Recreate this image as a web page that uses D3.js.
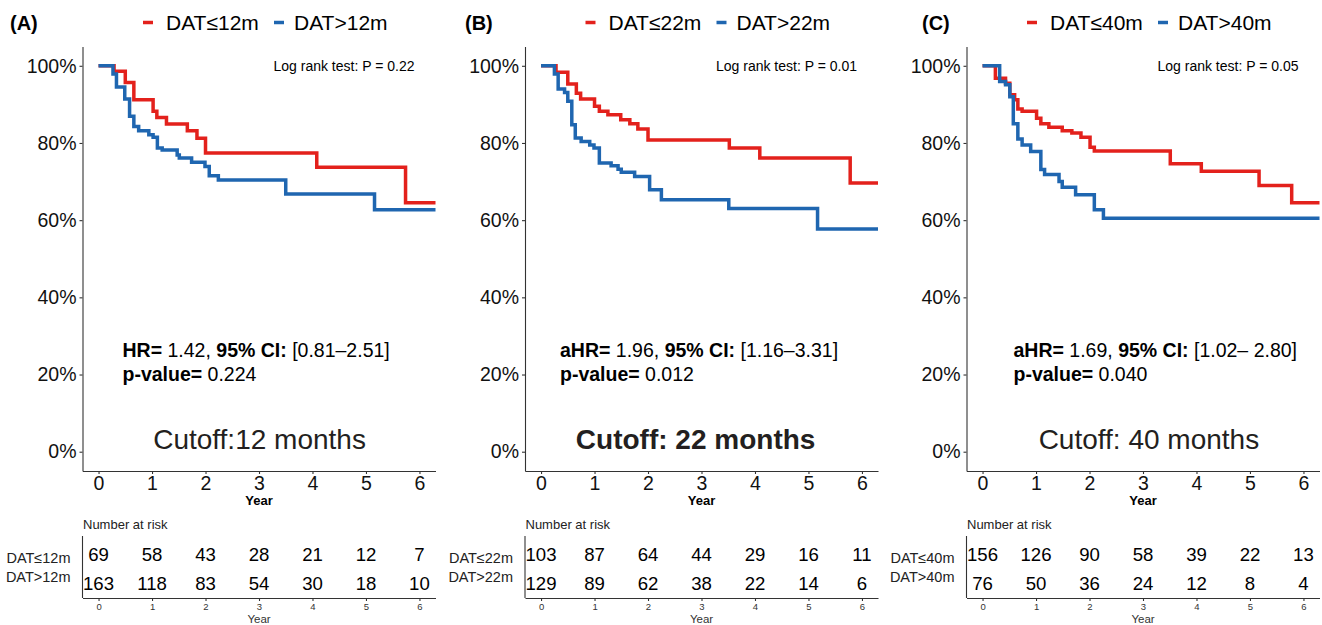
<!DOCTYPE html>
<html>
<head>
<meta charset="utf-8">
<script src="https://cdn.jsdelivr.net/npm/d3@7"></script>
<style>
  body { margin: 0; background: #fff; }
  svg { font-family: Arial, "Liberation Sans", sans-serif; }
</style>
</head>
<body>
<script>
// ---- data ----
const panelLabels = ["(A)", "(B)", "(C)"];
const lowGroups = ["DAT≤12m", "DAT≤22m", "DAT≤40m"];
const highGroups = ["DAT>12m", "DAT>22m", "DAT>40m"];
const logRankP = ["0.22", "0.01", "0.05"];
const hrLabels = ["HR=", "aHR=", "aHR="];
const hrValues = ["1.42", "1.96", "1.69"];
const ciValues = ["[0.81–2.51]", "[1.16–3.31]", "[1.02– 2.80]"];
const pValues = ["0.224", "0.012", "0.040"];
const cutoffTexts = ["Cutoff:12 months", "Cutoff: 22 months", "Cutoff: 40 months"];
const yearTicks = [0, 1, 2, 3, 4, 5, 6];
const pctTicks = [0, 0.2, 0.4, 0.6, 0.8, 1];

const riskLow = [
    [69, 58, 43, 28, 21, 12, 7],
    [103, 87, 64, 44, 29, 16, 11],
    [156, 126, 90, 58, 39, 22, 13]
];
const riskHigh = [
    [163, 118, 83, 54, 30, 18, 10],
    [129, 89, 62, 38, 22, 14, 6],
    [76, 50, 36, 24, 12, 8, 4]
];

// KM step curves (years, survival)
const timeA_low = [0, 0.29, 0.50, 0.66, 1.02, 1.09, 1.27, 1.66, 1.84, 2.00, 4.08, 5.74, 6.3];
const survA_low = [1, 0.986, 0.957, 0.912, 0.882, 0.866, 0.849, 0.832, 0.812, 0.774, 0.737, 0.645, 0.645];
const timeA_high = [0, 0.27, 0.335, 0.49, 0.58, 0.66, 0.75, 0.94, 1.02, 1.10, 1.19, 1.47, 1.51, 1.74, 1.99, 2.07, 2.24, 3.50, 5.16, 6.3];
const survA_high = [1, 0.979, 0.945, 0.914, 0.869, 0.843, 0.832, 0.821, 0.815, 0.787, 0.782, 0.769, 0.761, 0.750, 0.739, 0.715, 0.704, 0.668, 0.627, 0.627];

const timeB_low = [0, 0.28, 0.50, 0.66, 0.74, 1.00, 1.09, 1.25, 1.49, 1.66, 1.81, 2.00, 3.52, 4.09, 5.78, 6.3];
const survB_low = [1, 0.983, 0.953, 0.929, 0.914, 0.895, 0.882, 0.873, 0.860, 0.850, 0.836, 0.808, 0.787, 0.761, 0.696, 0.696];
const timeB_high = [0, 0.25, 0.32, 0.44, 0.50, 0.575, 0.64, 0.75, 0.91, 0.99, 1.09, 1.31, 1.44, 1.50, 1.75, 2.03, 2.25, 3.51, 5.17, 6.3];
const survB_high = [1, 0.979, 0.940, 0.931, 0.908, 0.847, 0.813, 0.804, 0.795, 0.787, 0.748, 0.741, 0.732, 0.724, 0.713, 0.679, 0.653, 0.630, 0.577, 0.577];

const timeC_low = [0, 0.24, 0.43, 0.51, 0.60, 0.66, 0.74, 1.01, 1.09, 1.24, 1.49, 1.67, 1.84, 2.01, 2.09, 3.51, 4.09, 5.17, 5.78, 6.3];
const survC_low = [1, 0.968, 0.955, 0.925, 0.912, 0.888, 0.882, 0.864, 0.850, 0.841, 0.832, 0.826, 0.815, 0.789, 0.779, 0.746, 0.727, 0.690, 0.645, 0.645];
const timeC_high = [0, 0.32, 0.43, 0.51, 0.575, 0.66, 0.74, 0.90, 1.09, 1.16, 1.43, 1.49, 1.74, 2.09, 2.26, 6.3];
const survC_high = [1, 0.959, 0.951, 0.920, 0.850, 0.810, 0.795, 0.778, 0.731, 0.718, 0.700, 0.685, 0.666, 0.627, 0.605, 0.605];

const lowCurves = [[timeA_low, survA_low], [timeB_low, survB_low], [timeC_low, survC_low]];
const highCurves = [[timeA_high, survA_high], [timeB_high, survB_high], [timeC_high, survC_high]];

// ---- layout ----
const width = 1322;
const height = 625;
const panelOffsets = [0, 442.5, 884];
const labelX = [10, 465, 922];
const hrX = [40, 35, 47];
const cutoffX = [3.01, 2.89, 3.11];
const cutoffBold = [false, true, false];
const red = "#E3211C";
const blue = "#1F66B0";

const svg = d3.select("body")
    .append("svg")
    .attr("width", width)
    .attr("height", height);

const x = d3.scaleLinear().domain([-0.3, 6.3]).range([82.5, 435.5]);
const y = d3.scaleLinear().domain([-0.05, 1.05]).range([471, 46.5]);
const riskRow = d3.scalePoint().domain([0, 1]).range([554, 583]);
const riskLab = d3.scalePoint().domain([0, 1]).range([558, 577]);

const line = d3.line()
    .x(d => x(d[0]))
    .y(d => y(d[1]))
    .curve(d3.curveStepAfter);

panelLabels.forEach((lab, i) => {
    const g = svg.append("g").attr("transform", `translate(${panelOffsets[i]},0)`);

    // panel tag
    svg.append("text")
        .attr("x", labelX[i]).attr("y", 30)
        .style("font-size", "20px").style("font-weight", "bold")
        .text(lab);

    // legend
    const leg = g.append("g").attr("transform", "translate(82.5,22.5)");
    leg.append("line").attr("x1", 60.5).attr("x2", 70.5)
        .attr("stroke", red).attr("stroke-width", 3.5);
    leg.append("text").attr("x", 83.5).attr("y", 7.2)
        .style("font-size", "21px").text(lowGroups[i]);
    leg.append("line").attr("x1", 191.5).attr("x2", 201.5)
        .attr("stroke", blue).attr("stroke-width", 3.5);
    leg.append("text").attr("x", 211.5).attr("y", 7.2)
        .style("font-size", "21px").text(highGroups[i]);

    // axes
    g.append("g")
        .attr("transform", "translate(82.5,0)")
        .call(d3.axisLeft(y).tickValues(pctTicks).tickFormat(d3.format(".0%"))
            .tickSize(3).tickPadding(3).tickSizeOuter(0))
        .call(a => a.selectAll("text").style("font-size", "19.5px").attr("fill", "#111").style("font-family", null))
        .call(a => a.selectAll("path,line").attr("stroke", "#333").attr("stroke-width", 1.1));

    g.append("g")
        .attr("transform", "translate(0,471)")
        .call(d3.axisBottom(x).tickValues(yearTicks).tickFormat(d3.format("d"))
            .tickSize(3).tickSizeOuter(0))
        .call(a => a.selectAll("text").attr("y", 19).attr("dy", 0)
            .style("font-size", "19.5px").attr("fill", "#111").style("font-family", null))
        .call(a => a.selectAll("path,line").attr("stroke", "#333").attr("stroke-width", 1.1));

    g.append("text")
        .attr("x", x(3)).attr("y", 505)
        .attr("text-anchor", "middle")
        .style("font-size", "13px").style("font-weight", "bold")
        .text("Year");

    // curves
    const toPts = c => c[0].map((t, k) => [t, c[1][k]]);
    g.append("path")
        .datum(toPts(lowCurves[i]))
        .attr("fill", "none").attr("stroke", red).attr("stroke-width", 3.5)
        .attr("d", line);
    g.append("path")
        .datum(toPts(highCurves[i]))
        .attr("fill", "none").attr("stroke", blue).attr("stroke-width", 3.5)
        .attr("d", line);

    // annotations
    g.append("text")
        .attr("x", 82.5 + 332).attr("y", 70.5)
        .attr("text-anchor", "end")
        .style("font-size", "14px")
        .text(`Log rank test: P = ${logRankP[i]}`);

    const hr = g.append("text")
        .attr("x", 82.5 + hrX[i]).attr("y", 357)
        .style("font-size", "19.5px");
    hr.append("tspan").style("font-weight", "bold").text(hrLabels[i]);
    hr.append("tspan").text(` ${hrValues[i]}, `);
    hr.append("tspan").style("font-weight", "bold").text("95% CI:");
    hr.append("tspan").text(` ${ciValues[i]}`);

    const pv = g.append("text")
        .attr("x", 82.5 + hrX[i]).attr("y", 381)
        .style("font-size", "19.5px");
    pv.append("tspan").style("font-weight", "bold").text("p-value=");
    pv.append("tspan").text(` ${pValues[i]}`);

    g.append("text")
        .attr("x", x(cutoffX[i])).attr("y", 449)
        .attr("text-anchor", "middle")
        .attr("fill", "#231F20")
        .style("font-size", "28px")
        .style("font-weight", cutoffBold[i] ? "bold" : "normal")
        .text(cutoffTexts[i]);

    // risk table
    g.append("text")
        .attr("x", 83).attr("y", 529)
        .style("font-size", "13px").attr("fill", "#222")
        .text("Number at risk");

    g.append("line")
        .attr("x1", 82.5).attr("x2", 82.5).attr("y1", 536).attr("y2", 598)
        .attr("stroke", "#333").attr("stroke-width", 1.1);

    g.append("g")
        .attr("transform", "translate(0,598)")
        .call(d3.axisBottom(x).tickValues(yearTicks).tickFormat(d3.format("d"))
            .tickSize(3).tickPadding(2).tickSizeOuter(0))
        .call(a => a.selectAll("text").attr("y", 12).attr("dy", 0)
            .style("font-size", "9.5px").attr("fill", "#333").style("font-family", null))
        .call(a => a.selectAll("path,line").attr("stroke", "#333").attr("stroke-width", 1.1));

    g.append("text")
        .attr("x", x(3)).attr("y", 623)
        .attr("text-anchor", "middle")
        .style("font-size", "11.5px").attr("fill", "#333")
        .text("Year");

    [riskLow[i], riskHigh[i]].forEach((row, r) => {
        g.selectAll(null)
            .data(row)
            .enter().append("text")
            .attr("x", (d, k) => x(yearTicks[k]))
            .attr("y", riskRow(r))
            .attr("dy", "0.35em")
            .attr("text-anchor", "middle")
            .style("font-size", "18.6px")
            .text(d => d);
    });

    [lowGroups[i], highGroups[i]].forEach((name, r) => {
        g.append("text")
            .attr("x", 70.5).attr("y", riskLab(r))
            .attr("dy", "0.35em")
            .attr("text-anchor", "end")
            .style("font-size", "14.5px").attr("fill", "#222")
            .text(name);
    });
});
</script>
</body>
</html>
